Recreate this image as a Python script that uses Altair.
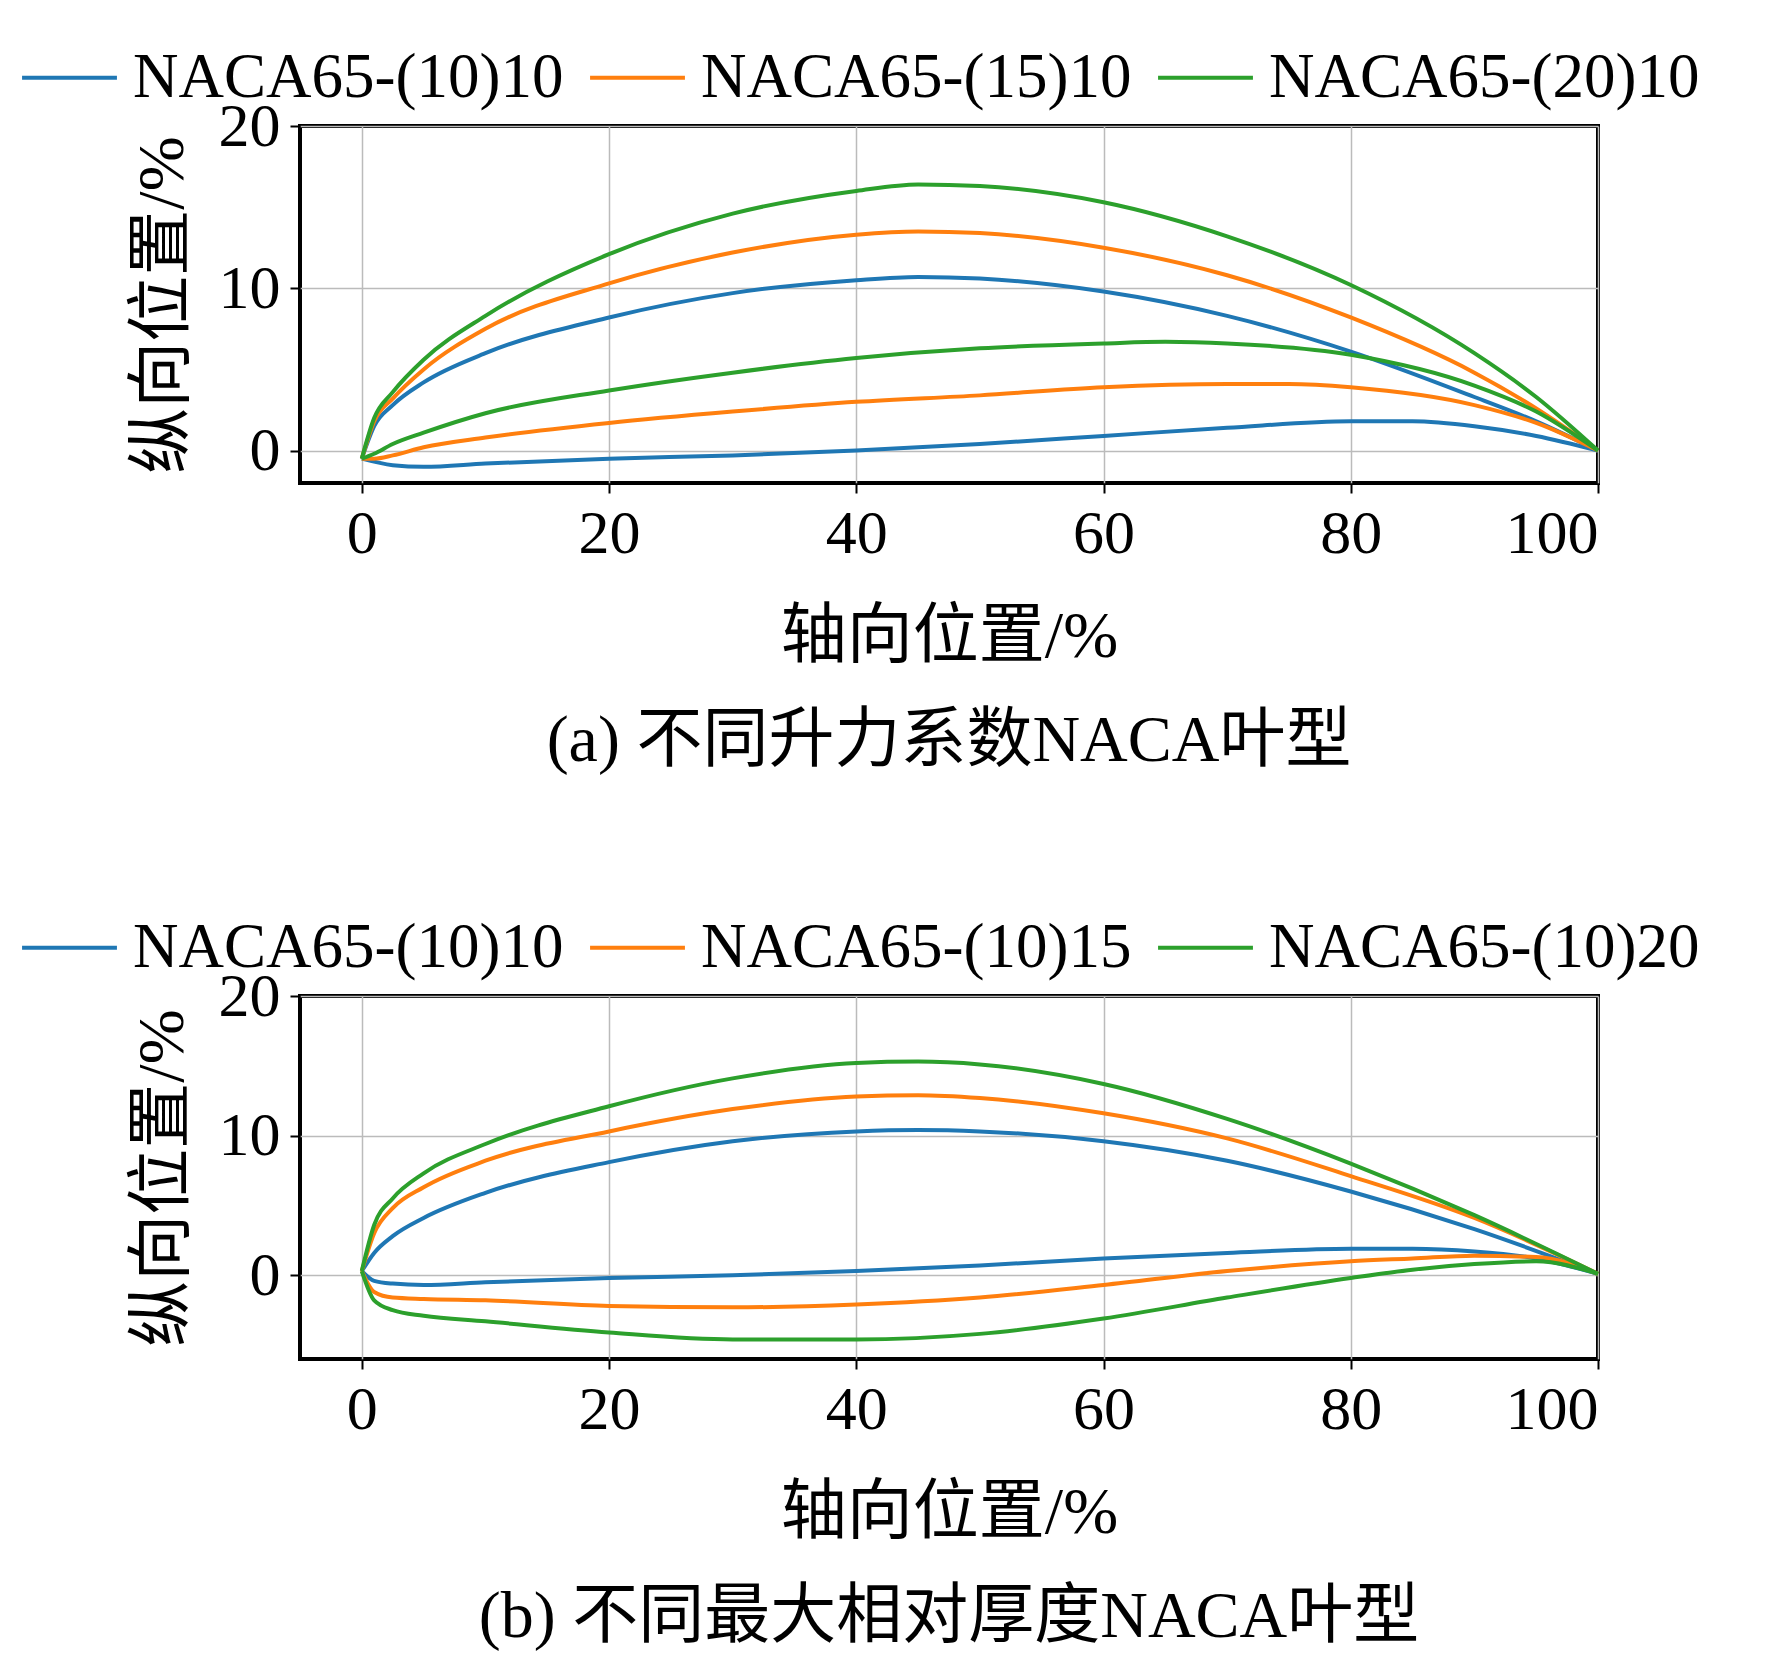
import altair as alt
import pandas as pd

FONT = "Liberation Serif, Noto Sans CJK SC"
COLORS = ["#1f77b4", "#ff7f0e", "#2ca02c"]

# panel (a)
a_names = ["NACA65-(10)10", "NACA65-(15)10", "NACA65-(20)10"]
a_up_x = [[0,1,2.5,5,10,20,30,40,45,50,60,70,80,90,95,100]]*3
a_up_y = [
    [-0.5,1.5,2.8,4.2,6.0,8.2,9.7,10.5,10.7,10.6,9.8,8.3,6.1,3.3,1.8,0],
    [-0.5,1.8,3.2,5.0,7.5,10.3,12.2,13.3,13.5,13.4,12.5,10.8,8.2,4.8,2.6,0],
    [-0.5,2.0,3.6,5.6,8.3,12.1,14.6,16.0,16.4,16.3,15.3,13.2,10.2,6.0,3.3,0],
]
a_lo_x = [
    [0,2.5,5,10,20,30,40,50,60,70,80,85,90,95,100],
    [0,1,2.5,5,10,20,30,40,50,60,70,75,80,90,95,100],
    [0,1,2.5,5,10,20,30,40,50,60,65,70,80,90,95,100],
]
a_lo_y = [
    [-0.5,-0.9,-1.0,-0.8,-0.5,-0.3,0.0,0.4,0.9,1.4,1.8,1.8,1.5,0.9,0],
    [-0.5,-0.5,-0.3,0.2,0.8,1.7,2.4,3.0,3.4,3.9,4.1,4.1,3.9,2.8,1.7,0],
    [-0.5,-0.2,0.4,1.1,2.3,3.7,4.8,5.7,6.3,6.6,6.7,6.6,5.9,4.0,2.4,0],
]

# panel (b)
b_names = ["NACA65-(10)10", "NACA65-(10)15", "NACA65-(10)20"]
b_up_x = [[0,1,2.5,5,10,20,30,40,45,50,60,70,80,90,100]]*3
b_up_y = [
    [0.3,1.6,2.8,4.1,5.9,8.1,9.6,10.3,10.4,10.3,9.6,8.2,6.0,3.3,0.1],
    [0.3,3.0,4.8,6.3,8.2,10.3,11.9,12.8,12.9,12.7,11.6,9.8,7.1,4.1,0.1],
    [0.3,3.6,5.5,7.3,9.4,12.1,14.1,15.2,15.3,15.1,13.7,11.2,8.0,4.3,0.1],
]
b_lo_x = [[0,1,2.5,5,10,20,30,40,50,60,70,80,85,90,95,100]]*3
b_lo_y = [
    [0.3,-0.4,-0.6,-0.7,-0.5,-0.2,0.0,0.3,0.7,1.2,1.6,1.9,1.9,1.7,1.2,0.1],
    [0.3,-1.2,-1.6,-1.7,-1.8,-2.2,-2.3,-2.1,-1.6,-0.7,0.3,1.0,1.2,1.4,1.3,0.1],
    [0.3,-1.8,-2.5,-2.9,-3.3,-4.1,-4.6,-4.6,-4.2,-3.1,-1.6,-0.2,0.4,0.8,1.0,0.1],
]

def frame(names, upx, upy, lox, loy):
    rows = []
    for i, n in enumerate(names):
        for x, y in zip(upx[i], upy[i]):
            rows.append(dict(series=n, surf=n + "u", x=x, y=y))
        for x, y in zip(lox[i], loy[i]):
            rows.append(dict(series=n, surf=n + "l", x=x, y=y))
    return pd.DataFrame(rows)

def panel(df, names, ydom, caption, h):
    return alt.Chart(df).mark_line(interpolate="monotone", strokeWidth=4).encode(
        x=alt.X("x:Q", scale=alt.Scale(domain=[-5, 100], nice=False),
                axis=alt.Axis(values=[0,20,40,60,80,100], title="轴向位置/%")),
        y=alt.Y("y:Q", scale=alt.Scale(domain=ydom, nice=False),
                axis=alt.Axis(values=[0,10,20], title="纵向位置/%")),
        color=alt.Color("series:N", scale=alt.Scale(domain=names, range=COLORS),
                        legend=alt.Legend(orient="none", legendX=-280, legendY=-98,
                                          direction="horizontal", title=None,
                                          symbolType="stroke", symbolSize=9000,
                                          symbolStrokeWidth=4, labelFontSize=63,
                                          labelFont=FONT, columnPadding=18,
                                          labelOffset=14, labelLimit=700)),
        detail="surf:N",
    ).properties(width=1298, height=h,
                 title=alt.TitleParams(caption, orient="bottom", fontSize=66,
                                       font=FONT, fontWeight="normal", offset=40))

ca = panel(frame(a_names, a_up_x, a_up_y, a_lo_x, a_lo_y), a_names, [-2, 20], "(a) 不同升力系数NACA叶型", 357)
cb = panel(frame(b_names, b_up_x, b_up_y, b_lo_x, b_lo_y), b_names, [-6, 20], "(b) 不同最大相对厚度NACA叶型", 363)

chart = alt.vconcat(ca, cb, spacing=120).resolve_scale(color="independent").configure_view(
    stroke="black", strokeWidth=4
).configure_axis(
    labelFont=FONT, titleFont=FONT, labelFontSize=62, titleFontSize=66,
    titleFontWeight="normal", labelColor="black", titleColor="black",
    gridColor="#bbbbbb", gridWidth=1.5, domain=False, tickColor="black",
    labelPadding=10
).configure_axisX(tickSize=10, tickWidth=2, titlePadding=40
).configure_axisY(tickSize=10, tickWidth=2, titlePadding=22
).properties(padding={"left": 10, "top": 18, "right": 10, "bottom": 10})

chart.save("out.html", embed_options={"renderer": "svg", "actions": False})
